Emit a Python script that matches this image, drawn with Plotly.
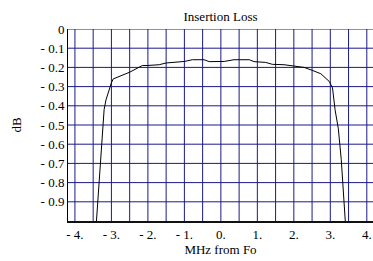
import plotly.graph_objects as go

freq_mhz = [-3.41, -3.29, -3.20, -3.15, -3.06, -3.00, -2.95, -2.50, -2.15, -2.00, -1.69, -1.50,
            -1.00, -0.78, -0.46, -0.32, 0.09, 0.36, 0.78, 0.91, 1.23, 1.41, 1.73, 2.00,
            2.28, 2.50, 2.74, 2.97, 3.06, 3.13, 3.22, 3.30, 3.41]
loss_db = [-1.0, -0.68, -0.42, -0.37, -0.31, -0.28, -0.26, -0.225, -0.19, -0.19, -0.186, -0.177,
           -0.169, -0.16, -0.16, -0.17, -0.169, -0.16, -0.16, -0.17, -0.174, -0.184, -0.186, -0.191,
           -0.2, -0.215, -0.233, -0.273, -0.307, -0.42, -0.52, -0.68, -1.0]

x_tickvals = [-4, -3, -2, -1, 0, 1, 2, 3, 4]
x_ticktext = ["- 4.", "- 3.", "- 2.", "- 1.", "0.", "1.", "2.", "3.", "4."]
y_tickvals = [0, -0.1, -0.2, -0.3, -0.4, -0.5, -0.6, -0.7, -0.8, -0.9]
y_ticktext = ["0", "- 0.1", "- 0.2", "- 0.3", "- 0.4", "- 0.5", "- 0.6", "- 0.7", "- 0.8", "- 0.9"]
x_grid = [v / 2 for v in range(-8, 9)]
y_grid = [-v / 10 for v in range(0, 10)]

fig = go.Figure()
fig.add_trace(go.Scatter(x=freq_mhz, y=loss_db, mode="lines",
                         line=dict(color="black", width=1), showlegend=False, hoverinfo="skip"))

grid_color = "#1a1a8a"
for gx in x_grid:
    fig.add_shape(type="line", xref="x", yref="paper", x0=gx, x1=gx, y0=0, y1=1,
                  line=dict(color=grid_color, width=1), layer="below")
for gy in y_grid:
    fig.add_shape(type="line", xref="paper", yref="y", x0=0, x1=1, y0=gy, y1=gy,
                  line=dict(color=grid_color, width=1), layer="below")

font = dict(family="Liberation Serif, Times New Roman, serif", size=13, color="black")
fig.update_layout(
    width=373, height=261,
    margin=dict(l=68, r=0, t=29, b=40, autoexpand=False),
    paper_bgcolor="white", plot_bgcolor="white",
    font=font,
    title=dict(text="Insertion Loss", x=0.5, xref="paper", y=1 - 16 / 261, yref="container",
               xanchor="center", yanchor="middle", font=dict(size=13, family=font["family"])),
    xaxis=dict(range=[-4.19, 4.17], tickvals=x_tickvals, ticktext=x_ticktext, automargin=False,
               showgrid=False, zeroline=False, showline=True, linecolor="#111111", linewidth=2,
               ticks="", ticklen=0, title=dict(text="MHz from Fo", standoff=4, font=dict(size=13))),
    yaxis=dict(range=[-1.0, 0.0], tickvals=y_tickvals, ticktext=y_ticktext, automargin=False,
               showgrid=False, zeroline=False, showline=True, linecolor="black", linewidth=1,
               ticks="", ticklen=0, title=dict(text="dB", standoff=16, font=dict(size=13))),
)
fig.write_html("out.html", config={"displayModeBar": False, "staticPlot": True},
               post_script="document.body.style.margin='0';document.body.style.overflow='hidden';")
